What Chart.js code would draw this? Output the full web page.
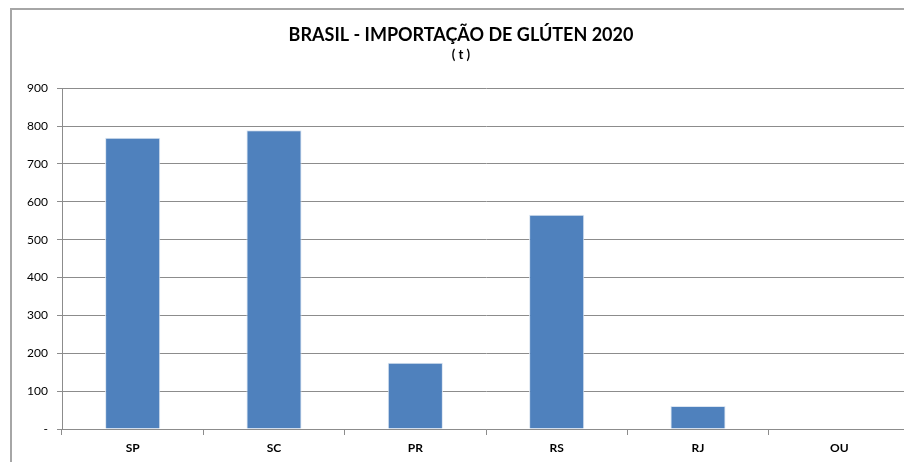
<!DOCTYPE html>
<html>
<head>
<meta charset="utf-8">
<script src="https://cdn.jsdelivr.net/npm/chart.js@4.4.1/dist/chart.umd.min.js"></script>
<style>
  html, body { margin: 0; padding: 0; background: #fff; overflow: hidden; }
  #frame {
    position: absolute; left: 10px; top: 8px;
    width: 910px; height: 470px;
    border-left: 2px solid #a6a6a6; border-top: 2px solid #a6a6a6;
    box-sizing: border-box;
  }
  #wrap { position: absolute; left: 0; top: -2px; width: 898px; height: 456px; }
</style>
</head>
<body>
<div id="frame"><div id="wrap"><canvas id="myChart"></canvas></div></div>
<script>
var estados = ['SP', 'SC', 'PR', 'RS', 'RJ', 'OU'];
var toneladas = [769, 789, 175, 566, 61, 0];
var tituloTexto = 'BRASIL - IMPORTAÇÃO DE GLÚTEN 2020';
var subtituloTexto = '( t )';

var fonte = "Lato, 'Liberation Sans', sans-serif";
var cinza = '#8c8c8c';

var config = {
    type: 'bar',
    data: {
        labels: estados,
        datasets: [{
            data: toneladas,
            backgroundColor: '#4f81bd',
            borderColor: '#dbe5f1',
            borderWidth: 1,
            categoryPercentage: 1,
            barPercentage: 0.39
        }]
    },
    options: {
        responsive: true,
        maintainAspectRatio: false,
        animation: false,
        events: [],
        layout: { padding: 0 },
        plugins: {
            legend: { display: false },
            tooltip: { enabled: false },
            title: {
                display: true,
                text: tituloTexto,
                color: '#000',
                font: { family: fonte, size: 18, weight: 'bold' },
                padding: { top: 16, bottom: 1 }
            },
            subtitle: {
                display: true,
                text: subtituloTexto,
                color: '#000',
                font: { family: fonte, size: 13, weight: 'bold' },
                padding: { top: 0, bottom: 26 }
            }
        },
        scales: {
            y: {
                min: 0,
                max: 900,
                afterFit: function (axis) { axis.width = 50; },
                ticks: {
                    stepSize: 100,
                    color: '#000',
                    padding: 9,
                    font: { family: fonte, size: 12 },
                    callback: function (v) { return v === 0 ? '-' : v; }
                },
                grid: { color: cinza, tickLength: 5, tickColor: cinza },
                border: { color: cinza }
            },
            x: {
                afterFit: function (axis) { axis.height = 35; },
                ticks: {
                    color: '#000',
                    padding: 6,
                    font: { family: fonte, size: 12, weight: 'bold' }
                },
                grid: { offset: true, drawOnChartArea: false, tickLength: 6, tickColor: cinza },
                border: { color: cinza }
            }
        }
    }
};

var myChart = new Chart(document.getElementById('myChart'), config);
</script>
</body>
</html>
